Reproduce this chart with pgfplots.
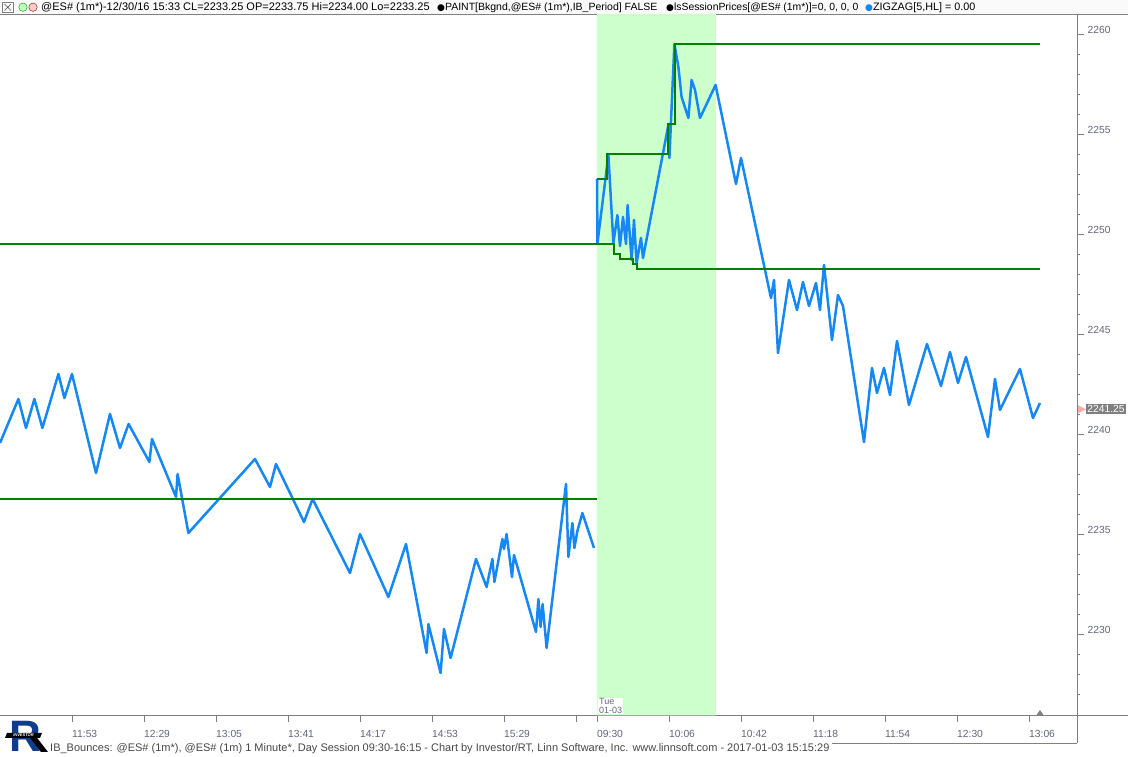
\documentclass[border=0pt]{standalone}
\usepackage{pgfplots}
\pgfplotsset{compat=1.18}
\usepackage{fontspec}
\setmainfont{Liberation Sans}
\newfontfamily\symfont{DejaVu Sans}
\definecolor{zz}{RGB}{22,136,245}
\definecolor{sess}{RGB}{0,128,0}
\definecolor{band}{RGB}{204,255,204}
\definecolor{axgray}{RGB}{128,128,128}
\definecolor{lblc}{RGB}{100,100,125}
\definecolor{pinkm}{RGB}{255,170,170}
\definecolor{logob}{RGB}{16,60,140}

\begin{document}
\begin{tikzpicture}
\path[use as bounding box] (0pt,-41.5pt) rectangle (1128pt,715.5pt);
\fill[gray!4] (0pt,701.5pt) rectangle (1128pt,715.5pt);
\draw[axgray] (0pt,701.5pt) -- (1128pt,701.5pt);
\begin{axis}[
  at={(0pt,0pt)}, anchor=south west,
  width=1077pt, height=701.5pt, scale only axis,
  xmin=0, xmax=538.5, ymin=2225.925, ymax=2261,
  axis x line*=bottom, axis y line*=right,
  axis line style={axgray,-},
  tick align=outside,
  major tick length=7pt, minor tick length=3pt,
  tick style={axgray, line width=0.8pt},
  ytick={2230,2235,2240,2245,2250,2255,2260},
  minor ytick={2227,2228,2229,2231,2232,2233,2234,2236,2237,2238,2239,2241,2242,2243,2244,2246,2247,2248,2249,2251,2252,2253,2254,2256,2257,2258,2259},
  xtick={36,72,108,144,180,216,252,288,298.5,334.5,370.5,406.5,442.5,478.5,514.5},
  xticklabels={11:53,12:29,13:05,13:41,14:17,14:53,15:29,,09:30,10:06,10:42,11:18,11:54,12:30,13:06},
  /pgf/number format/assume math mode=true,
  /pgf/number format/set thousands separator={},
  ticklabel style={font=\fontsize{10.3}{12}\selectfont, text=lblc, inner sep=0pt},
  yticklabel style={anchor=base west, xshift=3.5pt},
  xticklabel style={anchor=base west, yshift=-15pt},
]
% Initial balance period (09:30-10:30)
\addplot[fill=band, draw=none] coordinates {(298.5,2225.925) (358,2225.925) (358,2261) (298.5,2261) (298.5,2225.925)};

% ZigZag, 12/30/16
\addplot[zz, line width=2.5pt, line join=round] coordinates {
(0,2239.55) (9.2,2241.75) (13,2240.3) (17.2,2241.75) (21.2,2240.3) (29.2,2243)
(32.2,2241.8) (36,2243) (48,2238.05) (55,2241) (60,2239.3) (64.3,2240.5)
(74.7,2238.6) (76,2239.75) (88,2236.85) (88.8,2238) (94.2,2235.05) (127.5,2238.75)
(135,2237.35) (138,2238.5) (152,2235.6) (156.3,2236.75) (175,2233.05) (180,2235)
(194.2,2231.85) (203,2234.5) (213.3,2229.05) (214.2,2230.5) (220.3,2228.05) (222,2230.25)
(225.3,2228.8) (238,2233.75) (243.3,2232.35) (246.2,2233.75) (247.2,2232.6) (251.2,2234.75)
(252,2234.25) (253.3,2235) (256,2232.85) (257,2233.95) (268,2230.1) (269.2,2231.75)
(270.3,2230.35) (271.3,2231.5) (273.3,2229.3) (283,2237.5) (284.2,2233.85) (286.2,2235.55)
(287.2,2234.3) (288.7,2235.15) (291.2,2236.05) (297,2234.3)
};
% ZigZag, 01/03/17
\addplot[zz, line width=2.5pt, line join=round] coordinates {
(298.5,2252.75) (298.75,2249.55) (304.2,2253.95) (306.7,2249.55) (308.7,2250.95) (310,2249.4)
(311.5,2250.85) (313,2249.5) (313.8,2251.45) (315.8,2248.7) (317,2250.7) (318.3,2248.55)
(320.5,2249.8) (321.5,2248.8) (334.2,2255.45) (334.7,2253.8) (337.2,2259.5) (339.2,2258.35)
(340.8,2256.85) (344.2,2255.8) (345.8,2257.7) (347.5,2257.2) (350,2255.8) (357.8,2257.45)
(368,2252.5) (370.5,2253.8) (385.5,2246.8) (387,2247.7) (389,2244.05) (394.5,2247.7)
(398.5,2246.2) (401.5,2247.6) (404.5,2246.4) (408,2247.55) (410,2246.2) (412,2248.45)
(416,2244.7) (419,2246.95) (421.5,2246.4) (432,2239.6) (436,2243.3) (438.5,2242.05)
(442,2243.3) (445,2241.95) (448.5,2244.65) (454.5,2241.45) (463.5,2244.5) (470.5,2242.4)
(475,2244.1) (479,2242.55) (483,2243.85) (494,2239.85) (497.5,2242.75) (500,2241.2)
(510,2243.25) (516.5,2240.8) (520,2241.55)
};

% Session prices
\addplot[sess, line width=2pt] coordinates {(0,2249.5) (298.5,2249.5)};
\addplot[sess, line width=2pt] coordinates {(0,2236.75) (298.5,2236.75)};
\addplot[sess, line width=2pt, const plot] coordinates {(298.5,2252.75) (303.5,2254) (334.2,2255.5) (337.3,2259.5) (520,2259.5)};
\addplot[sess, line width=2pt, const plot] coordinates {(298.5,2249.5) (307,2249) (310,2248.75) (316.5,2248.5) (318.3,2248.25) (520,2248.25)};
\end{axis}
% last price marker (2241.25)
\node[anchor=west, fill=axgray, text=white, inner sep=1.2pt, font=\fontsize{10.3}{12}\selectfont] at (1086pt,306.2pt) {2241.25};
\fill[pinkm] (1086pt,306.2pt) -- (1078pt,310.2pt) -- (1078pt,302.2pt) -- cycle;
% date label
\node[anchor=south west, fill=white, inner sep=1pt, font=\fontsize{9}{10}\selectfont, text=lblc, align=left] at (598pt,1pt) {Tue\\[-1.5pt]01-03};
% small marker
\fill[axgray] (1036.5pt,0.5pt) -- (1043.5pt,0.5pt) -- (1040pt,5.5pt) -- cycle;
% axis frame extensions
\draw[axgray] (1077pt,0pt) -- (1128pt,0pt);
\draw[axgray] (1077pt,701.5pt) -- (1077pt,-27.5pt);
\draw[axgray] (832pt,-27.5pt) -- (1077pt,-27.5pt);
% footer
\node[anchor=base west, inner sep=0pt, font=\fontsize{11}{12}\selectfont, text=black!72] at (50pt,-36.5pt)
 {IB\_Bounces: @ES\# (1m*), @ES\# (1m) 1 Minute*, Day Session 09:30-16:15 - Chart by Investor/RT, Linn Software, Inc. www.linnsoft.com - 2017-01-03 15:15:29};
% logo
\node[anchor=base west, inner sep=0pt, font=\fontsize{44}{44}\bfseries, text=logob] at (9pt,-36pt) {R};
\fill[black] (29pt,-21pt) -- (36pt,-21pt) -- (48pt,-36.5pt) -- (41pt,-36.5pt) -- cycle;
\fill[black] (7pt,-17.5pt) -- (42pt,-17.5pt) -- (40pt,-22.5pt) -- (5pt,-22.5pt) -- cycle;
\node[inner sep=0pt, font=\fontsize{4}{4}\bfseries\itshape, text=white] at (23.5pt,-20pt) {INVESTOR};
% header
\draw[axgray] (2.5pt,703pt) rectangle (13pt,713.5pt);
\draw[black!70] (4.5pt,705pt) -- (11pt,711.5pt) (4.5pt,711.5pt) -- (11pt,705pt);
\draw[green!60!black, fill=green!25] (23pt,708.3pt) circle (4.2pt);
\draw[red!60!black, fill=red!20] (33pt,708.3pt) circle (4.2pt);
\node[anchor=base west, inner sep=0pt, font=\fontsize{11}{12}\selectfont] at (41pt,704.5pt)
 {@ES\# (1m*)-12/30/16 15:33 CL=2233.25 OP=2233.75 Hi=2234.00 Lo=2233.25};
\node[anchor=base west, inner sep=0pt, font=\fontsize{10.5}{12}\selectfont] at (437pt,704.5pt)
 {{\symfont\fontsize{9}{10}\selectfont ●}PAINT[Bkgnd,@ES\# (1m*),IB\_Period] FALSE};
\node[anchor=base west, inner sep=0pt, font=\fontsize{10.4}{12}\selectfont] at (666pt,704.5pt)
 {{\symfont\fontsize{9}{10}\selectfont ●}lsSessionPrices[@ES\# (1m*)]=0, 0, 0, 0};
\node[anchor=base west, inner sep=0pt, font=\fontsize{10.8}{12}\selectfont] at (865pt,704.5pt)
 {{\symfont\fontsize{9}{10}\selectfont\color{zz}●}ZIGZAG[5,HL] = 0.00};
\end{tikzpicture}
\end{document}
